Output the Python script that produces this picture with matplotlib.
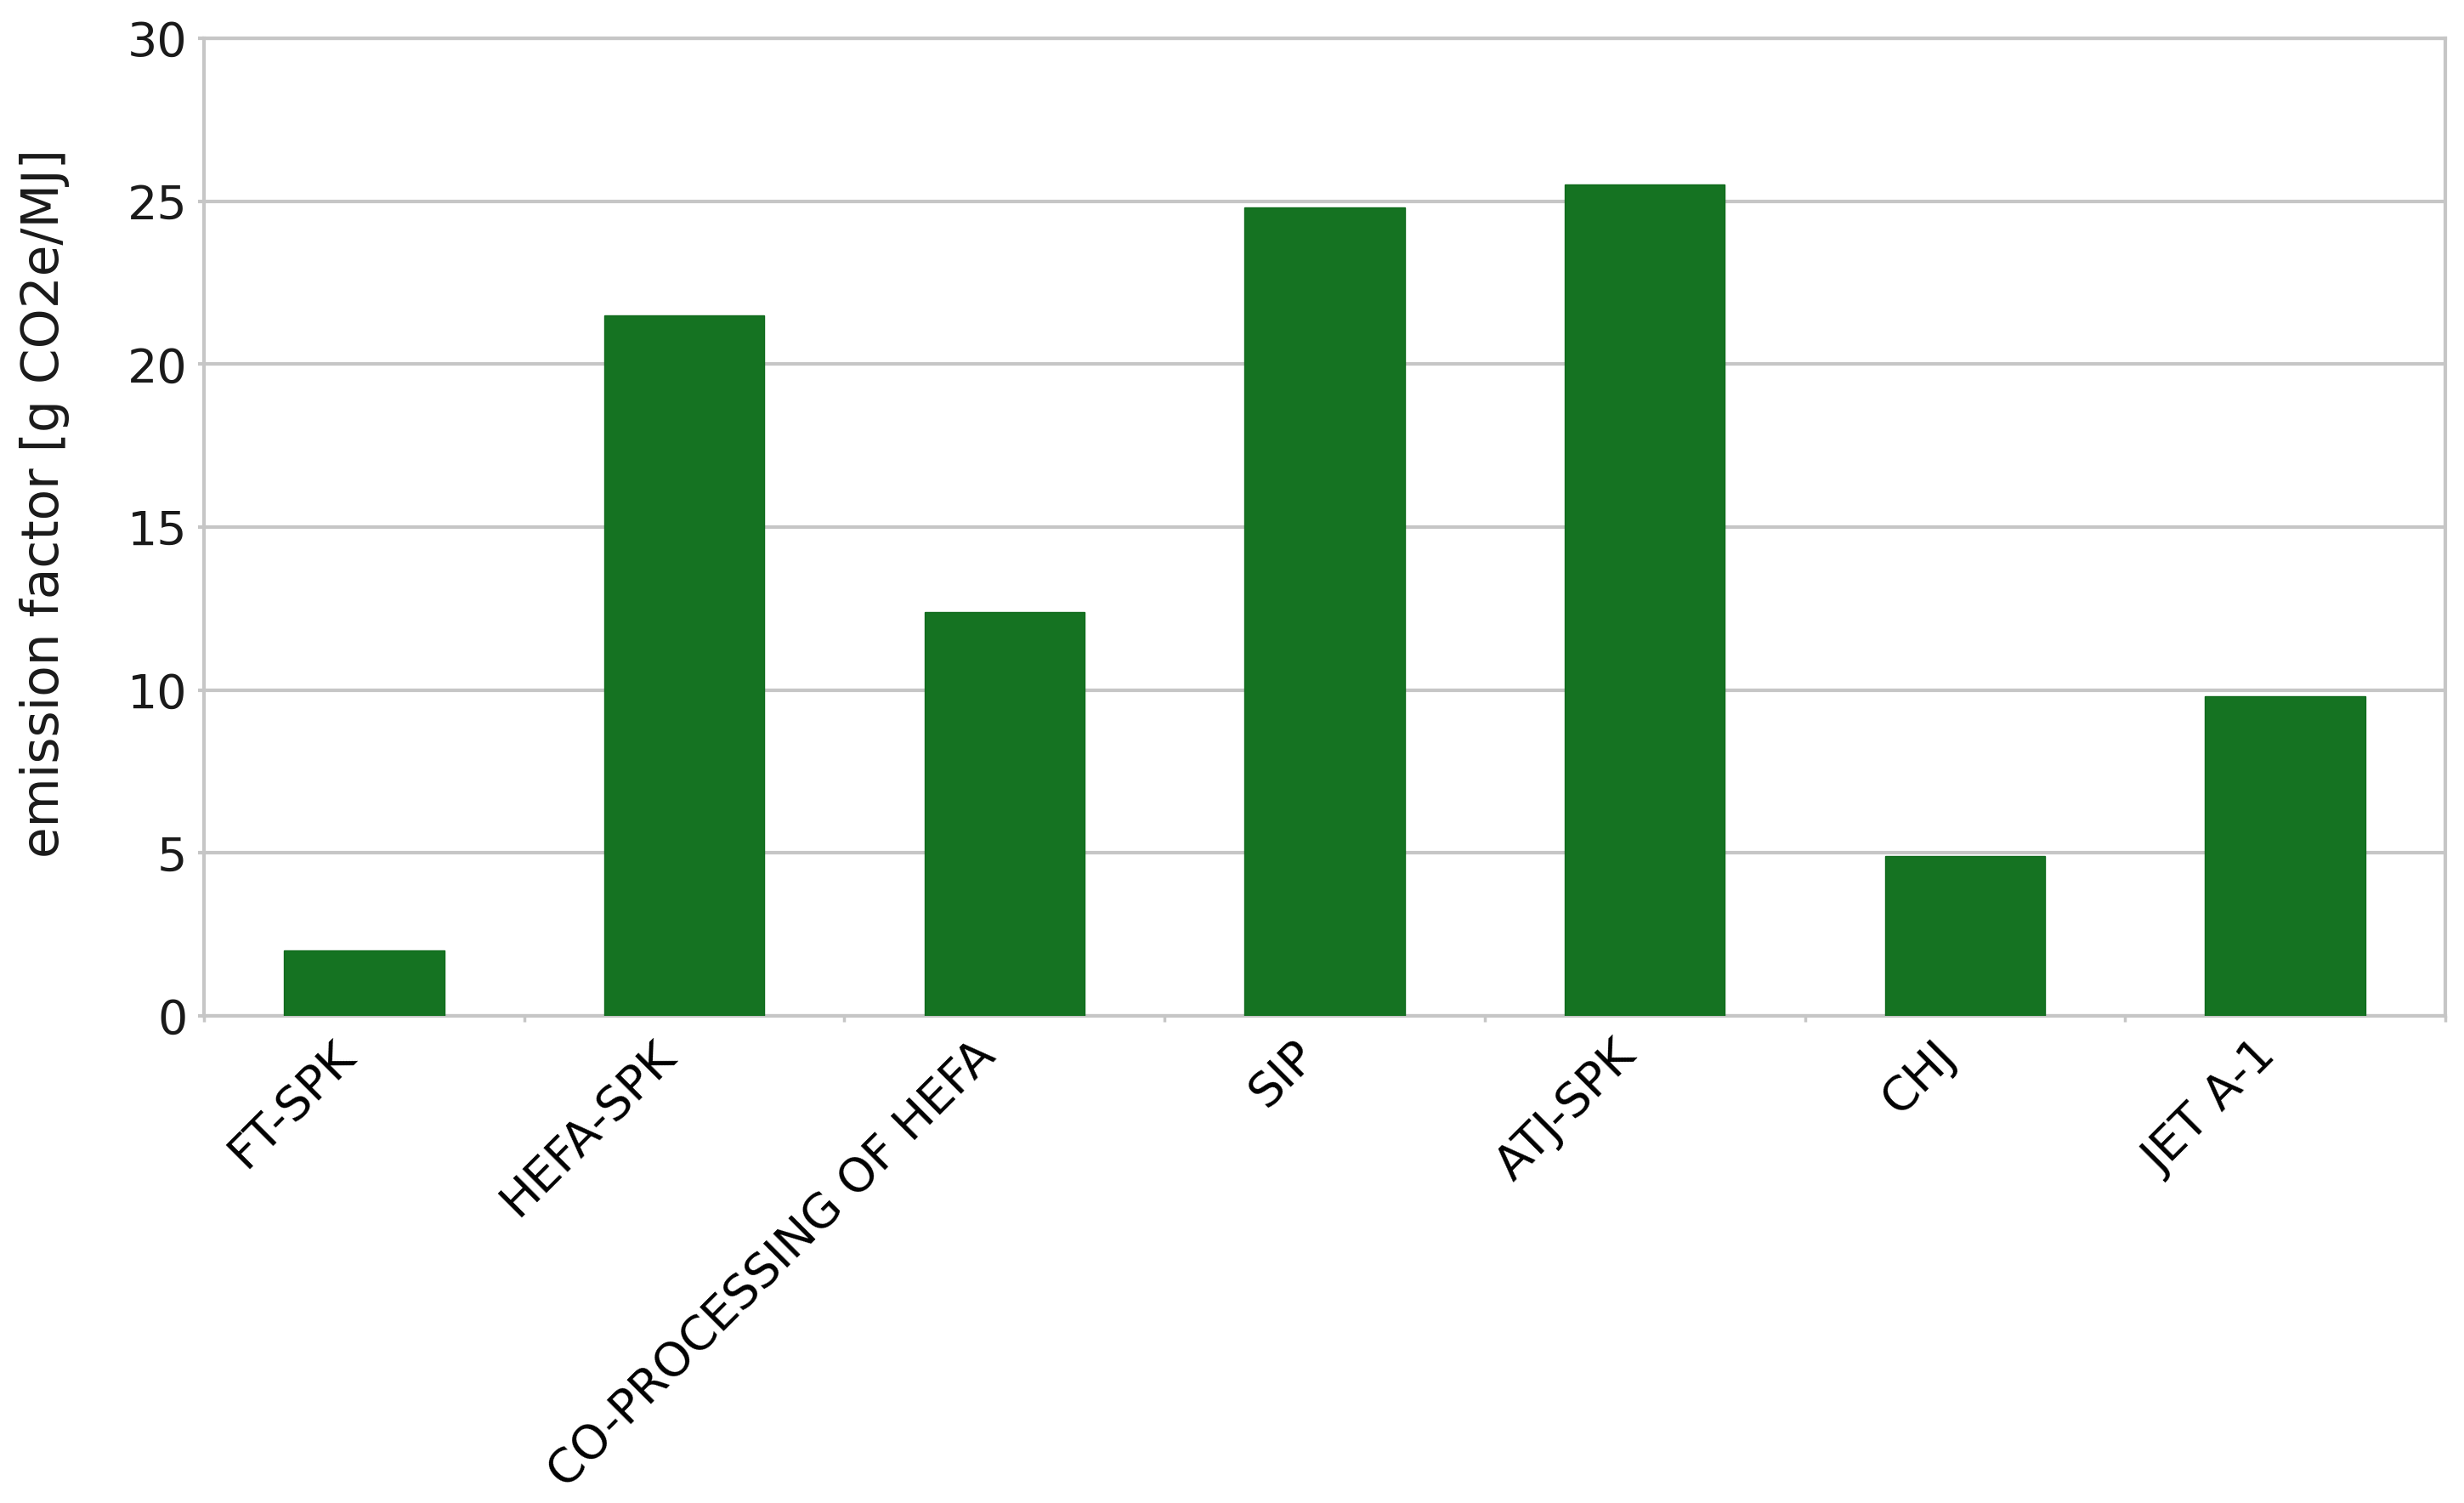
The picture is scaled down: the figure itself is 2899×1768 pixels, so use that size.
import matplotlib
matplotlib.use("Agg")

import numpy as np
import matplotlib.pyplot as plt

# -----------------------------
# DATA
# -----------------------------
fuels = ["FT-SPK", "HEFA-SPK", "CO-PROCESSING OF HEFA", "SIP",
         "ATJ-SPK", "CHJ", "JET A-1"]
emission = [2.0, 21.5, 12.4, 24.8, 25.5, 4.9, 9.8]
y_ticks = [0, 5, 10, 15, 20, 25, 30]

bar_color = "#157322"
grid_color = "#c6c6c6"

plt.rcParams["font.family"] = "DejaVu Sans"

fig = plt.figure(figsize=(28.99, 17.68), dpi=100)
ax = fig.add_axes([240 / 2899, 1 - 1195 / 1768,
                   (2877 - 240) / 2899, (1195 - 45) / 1768])

x = np.arange(len(fuels))
ax.bar(x, emission, width=0.5, color=bar_color,
       edgecolor="#0f6a1c", linewidth=1.0, zorder=3)

# axes limits / ticks
ax.set_xlim(-0.5, len(fuels) - 0.5)
ax.set_ylim(0, 30)
ax.set_yticks(y_ticks)
ax.set_xticks(x)
ax.set_xticklabels(fuels, rotation=45, ha="right", fontsize=40)
ax.set_xticks(np.arange(-0.5, len(fuels), 1.0), minor=True)

ax.tick_params(axis="x", which="major", length=0, pad=14)
ax.tick_params(axis="x", which="minor", length=5, width=2.5,
               color=grid_color)
ax.tick_params(axis="y", length=5, width=3, color=grid_color,
               pad=9, labelsize=40, labelcolor="#1a1a1a")

ax.yaxis.grid(True, color=grid_color, linewidth=3, zorder=0)
ax.set_axisbelow(True)

for sp in ax.spines.values():
    sp.set_color(grid_color)
    sp.set_linewidth(3)

ax.text(-0.071, 0.524, "emission factor [g CO2e/MJ]",
        transform=ax.transAxes, rotation=90, ha="center", va="center",
        fontsize=43, color="#1a1a1a")

fig.savefig("out.png", dpi=100, facecolor="white")
plt.close()
